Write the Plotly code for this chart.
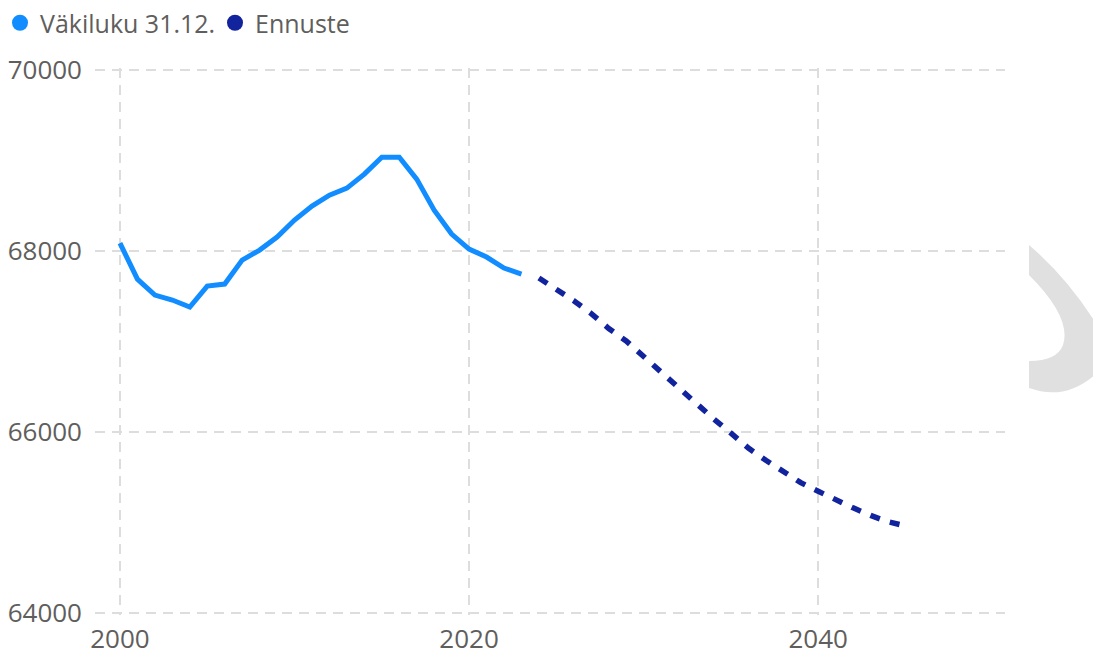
import plotly.graph_objects as go

# ---- data ----
hist_years = list(range(2000, 2024))
hist_values = [68088, 67690, 67514, 67459, 67381, 67613, 67635, 67900, 68011, 68155,
               68343, 68497, 68619, 68696, 68851, 69039, 69039, 68796, 68453, 68188,
               68022, 67934, 67812, 67746]
fc_years = list(range(2024, 2046))
fc_values = [67702, 67582, 67451, 67308, 67144, 67006, 66831, 66666, 66492, 66317,
             66146, 65987, 65821, 65686, 65561, 65439, 65343, 65246, 65160, 65076,
             65006, 64960]
series_names = ["Väkiluku 31.12.", "Ennuste"]
x_ticks = [2000, 2020, 2040]
y_ticks = [64000, 66000, 68000, 70000]

C_HIST = "#118DFF"
C_FC = "#12239E"
TXT = "#605E5C"
GRID = "#DDDDDD"

W, H = 1093, 655
ML, MR, MT, MB = 95, 88, 68, 40
PW, PH = W - ML - MR, H - MT - MB

fig = go.Figure()
fig.add_trace(go.Scatter(x=hist_years, y=hist_values, mode="lines",
                         line=dict(color=C_HIST, width=5), showlegend=False,
                         name=series_names[0]))
fig.add_trace(go.Scatter(x=fc_years, y=fc_values, mode="lines",
                         line=dict(color=C_FC, width=5.5, dash="10px,10.5px"), showlegend=False,
                         name=series_names[1]))
# legend entries (circle markers)
for nm, col in zip(series_names, [C_HIST, C_FC]):
    fig.add_trace(go.Scatter(x=[None], y=[None], mode="markers", name=nm,
                             marker=dict(color=col, size=19, symbol="circle")))

# decorative grey crescent at the right edge (pixel coords -> paper)
def px(x, y):
    return f"{(x - ML) / PW:.5f},{(H - MB - y) / PH:.5f}"

path = (f"M {px(1029,245)} L {px(1029,275)} "
        f"Q {px(1072,318)} {px(1063,345)} Q {px(1057,361)} {px(1029,361)} "
        f"L {px(1029,388)} Q {px(1068,402)} {px(1100,370)} "
        f"L {px(1100,330)} Q {px(1070,280)} {px(1029,245)} Z")
fig.add_shape(type="path", path=path, xref="paper", yref="paper",
              fillcolor="#E0E0E0", line=dict(width=0), layer="below")

fig.update_layout(
    width=W, height=H,
    margin=dict(l=ML, r=MR, t=MT, b=MB, autoexpand=False),
    paper_bgcolor="white", plot_bgcolor="white",
    font=dict(family="Open Sans", size=26, color=TXT),
    legend=dict(orientation="h", xref="container", x=-0.008, xanchor="left",
                yref="container", y=1.0, yanchor="top",
                font=dict(size=25, color=TXT), itemwidth=30, entrywidth=170,
                bgcolor="rgba(0,0,0,0)"),
    xaxis=dict(range=[1998.57, 2050.7], tickvals=x_ticks, ticktext=[str(v) for v in x_ticks],
               showgrid=True, gridcolor=GRID, gridwidth=2, griddash="10px,7px",
               zeroline=False, showline=False, ticks="", ticklabelstandoff=6,
               tickfont=dict(size=26, color=TXT)),
    yaxis=dict(range=[63975, 70025], tickvals=y_ticks, tickformat="d",
               showgrid=True, gridcolor=GRID, gridwidth=2, griddash="10px,7px",
               zeroline=False, showline=False, ticks="", ticklabelstandoff=12,
               tickfont=dict(size=26, color=TXT)),
)

fig.write_html("out.html", config={"displayModeBar": False},
               post_script="document.body.style.margin='0';")
